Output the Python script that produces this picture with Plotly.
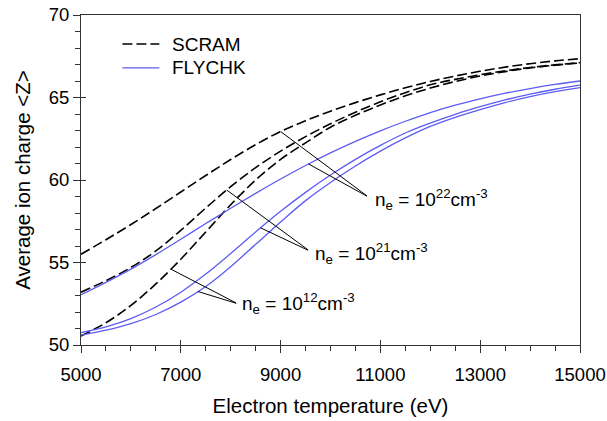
import numpy as np
import plotly.graph_objects as go

T = [5000, 5500, 6000, 6500, 7000, 7500, 8000, 8500, 9000, 9500, 10000,
     10500, 11000, 11500, 12000, 12500, 13000, 13500, 14000, 14500, 15000]

scram_22 = [55.5, 56.38, 57.3, 58.27, 59.27, 60.27, 61.24, 62.14, 62.94, 63.59, 64.17,
            64.69, 65.16, 65.59, 65.97, 66.3, 66.59, 66.84, 67.05, 67.22, 67.35]
scram_21 = [53.2, 53.9, 54.7, 55.7, 56.95, 58.3, 59.6, 60.75, 61.75, 62.63, 63.41,
            64.11, 64.74, 65.29, 65.77, 66.1, 66.38, 66.62, 66.82, 66.98, 67.11]
scram_12 = [50.55, 51.35, 52.4, 53.7, 55.2, 56.85, 58.5, 60.0, 61.25, 62.25, 63.2,
            63.92, 64.55, 65.1, 65.57, 65.97, 66.3, 66.57, 66.79, 66.96, 67.09]
flychk_22 = [53.05, 53.8, 54.6, 55.48, 56.41, 57.36, 58.29, 59.19, 60.06, 60.88, 61.64,
             62.34, 62.98, 63.56, 64.09, 64.54, 64.92, 65.26, 65.54, 65.79, 66.0]
flychk_21 = [50.75, 51.1, 51.6, 52.3, 53.2, 54.3, 55.55, 56.85, 58.1, 59.25, 60.3,
             61.25, 62.1, 62.85, 63.45, 63.98, 64.44, 64.85, 65.2, 65.5, 65.75]
flychk_12 = [50.6, 50.9, 51.3, 51.85, 52.6, 53.55, 54.75, 56.1, 57.45, 58.75, 59.85,
             60.85, 61.75, 62.55, 63.25, 63.8, 64.27, 64.69, 65.05, 65.35, 65.6]

labels = ["n<sub>e</sub> = 10<sup>22</sup>cm<sup>-3</sup>",
          "n<sub>e</sub> = 10<sup>21</sup>cm<sup>-3</sup>",
          "n<sub>e</sub> = 10<sup>12</sup>cm<sup>-3</sup>"]
label_T = [10850, 9640, 8180]
label_Z = [58.8, 55.55, 52.5]
tail_T = [10760, 9580, 8140]
tail_Z = [58.97, 55.7, 52.5]
tip_T_scram = [9000, 7920, 6800]
tip_T_fly = [9560, 8600, 7340]

FONT = "Liberation Sans, Arial, sans-serif"
BLUE = "#5c5cf2"

fig = go.Figure()
for z in [scram_22, scram_21, scram_12]:
    fig.add_trace(go.Scatter(x=T, y=z, mode="lines", line_shape="spline",
                             line=dict(color="black", width=1.6, dash="10px,4px"),
                             showlegend=False))
for z in [flychk_22, flychk_21, flychk_12]:
    fig.add_trace(go.Scatter(x=T, y=z, mode="lines", line_shape="spline",
                             line=dict(color=BLUE, width=1.3), showlegend=False))
fig.add_trace(go.Scatter(x=[], y=[], xaxis="x2", yaxis="y2", showlegend=False))

scram_sets = [scram_22, scram_21, scram_12]
fly_sets = [flychk_22, flychk_21, flychk_12]
for i in range(3):
    for curve, tt in [(scram_sets[i], tip_T_scram[i]), (fly_sets[i], tip_T_fly[i])]:
        zt = float(np.interp(tt, T, curve))
        fig.add_annotation(x=tt, y=zt, ax=tail_T[i], ay=tail_Z[i],
                           xref="x", yref="y", axref="x", ayref="y",
                           text="", showarrow=True, arrowhead=0,
                           arrowwidth=1, arrowcolor="black", standoff=0,
                           startstandoff=0)
    fig.add_annotation(x=label_T[i], y=label_Z[i], xref="x", yref="y",
                       text=labels[i], showarrow=False, xanchor="left",
                       yanchor="middle", font=dict(family=FONT, size=19, color="black"))

leg_items = [("SCRAM", dict(color="black", width=1.6, dash="10px,4px"), 0.912),
             ("FLYCHK", dict(color=BLUE, width=1.3), 0.84)]
for name, ln, yp in leg_items:
    fig.add_shape(type="line", xref="paper", yref="paper", x0=0.083, x1=0.157,
                  y0=yp, y1=yp, line=ln)
    fig.add_annotation(x=0.178, y=yp, xref="paper", yref="paper", text=name,
                       showarrow=False, xanchor="left", yanchor="middle",
                       font=dict(family=FONT, size=19, color="black"))

axis_common = dict(showgrid=False, zeroline=False, linecolor="#333", linewidth=1,
                   tickcolor="#333", automargin=False, tickformat="d",
                   ticklabeloverflow="allow",
                   tickfont=dict(family=FONT, size=18.5, color="black"))

fig.update_layout(
    width=607, height=421,
    margin=dict(l=81, r=27, t=15, b=76),
    plot_bgcolor="white", paper_bgcolor="white",
    xaxis=dict(range=[5000, 15000], tick0=5000, dtick=2000, ticks="outside", ticklen=7,
               showline=True, mirror=True,
               minor=dict(dtick=500, ticks="outside", ticklen=5, tickcolor="#333"),
               title=dict(text="Electron temperature (eV)", standoff=14,
                          font=dict(family=FONT, size=20.5, color="black")),
               ticklabelstandoff=6,
               **axis_common),
    yaxis=dict(range=[50, 70], tick0=50, dtick=5, ticks="outside", ticklen=7,
               showline=True, mirror=True,
               minor=dict(dtick=1, ticks="outside", ticklen=5, tickcolor="#333"),
               title=dict(text="Average ion charge &lt;Z&gt;", standoff=12,
                          font=dict(family=FONT, size=20.5, color="black")),
               **axis_common),
    xaxis2=dict(range=[5000, 15000], overlaying="x", anchor="y2", side="bottom",
                tick0=5000, dtick=2000, ticks="inside", ticklen=5, tickcolor="#333",
                showticklabels=False, showgrid=False, zeroline=False, showline=False,
                automargin=False),
    yaxis2=dict(range=[50, 70], overlaying="y", anchor="x2", side="left",
                tick0=50, dtick=5, ticks="inside", ticklen=5, tickcolor="#333",
                showticklabels=False, showgrid=False, zeroline=False, showline=False,
                automargin=False),
)

# remove the browser's default 8px body margin so the figure sits at the window origin
fig.write_html("out.html", config={"displayModeBar": False},
               post_script="document.body.style.margin='0';")
